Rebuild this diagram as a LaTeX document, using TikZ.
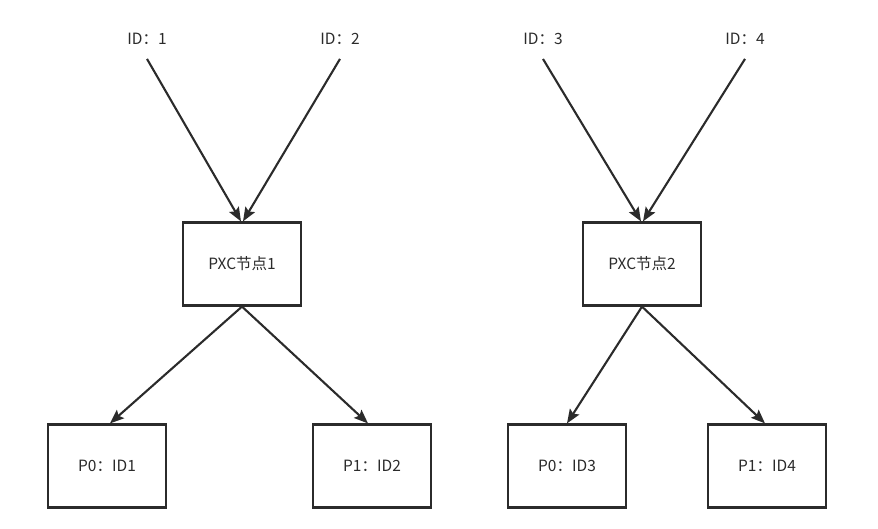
\documentclass[tikz,border=0pt]{standalone}
\usepackage{fontspec}
\setmainfont{Noto Sans CJK SC}
\usetikzlibrary{arrows.meta, positioning}
\definecolor{inkgray}{HTML}{2B2B2B}

\begin{document}
\begin{tikzpicture}[
    x=1pt, y=-1pt,
    every node/.style={text=inkgray, font=\fontsize{15.5}{18}\selectfont},
    idlabel/.style={inner sep=2pt},
    pxcnode/.style={rectangle, draw=inkgray, line width=2.2pt, minimum width=118pt, minimum height=83pt, align=center},
    slotbox/.style={rectangle, draw=inkgray, line width=2.2pt, minimum width=118pt, minimum height=83pt, align=center},
    link/.style={-{Stealth[length=14pt, width=11pt, inset=2.5pt]}, draw=inkgray, line width=2.1pt}
]
    \useasboundingbox (0,0) rectangle (878,529);

    % input ids
    \node[idlabel] (id1) at (147,39) {ID：1};
    \node[idlabel] (id2) at (340,39) {ID：2};
    \node[idlabel] (id3) at (543,39) {ID：3};
    \node[idlabel] (id4) at (745,39) {ID：4};

    % pxc nodes
    \node[pxcnode] (pxc1) at (242,264) {PXC节点1};
    \node[pxcnode] (pxc2) at (642,264) {PXC节点2};

    % slots
    \node[slotbox] (slot1) at (107,466) {P0：ID1};
    \node[slotbox] (slot2) at (372,466) {P1：ID2};
    \node[slotbox] (slot3) at (567,466) {P0：ID3};
    \node[slotbox] (slot4) at (767,466) {P1：ID4};

    \draw[link] ([yshift=-12pt]id1.south) -- ([xshift=-1pt]pxc1.north);
    \draw[link] ([yshift=-12pt]id2.south) -- ([xshift=1pt]pxc1.north);
    \draw[link] ([yshift=-12pt]id3.south) -- ([xshift=-1pt]pxc2.north);
    \draw[link] ([yshift=-12pt]id4.south) -- ([xshift=1pt]pxc2.north);

    \draw[link] (pxc1.south) -- ([xshift=3pt]slot1.north);
    \draw[link] (pxc1.south) -- ([xshift=-4pt]slot2.north);
    \draw[link] (pxc2.south) -- (slot3.north);
    \draw[link] (pxc2.south) -- ([xshift=-2pt]slot4.north);
\end{tikzpicture}
\end{document}
